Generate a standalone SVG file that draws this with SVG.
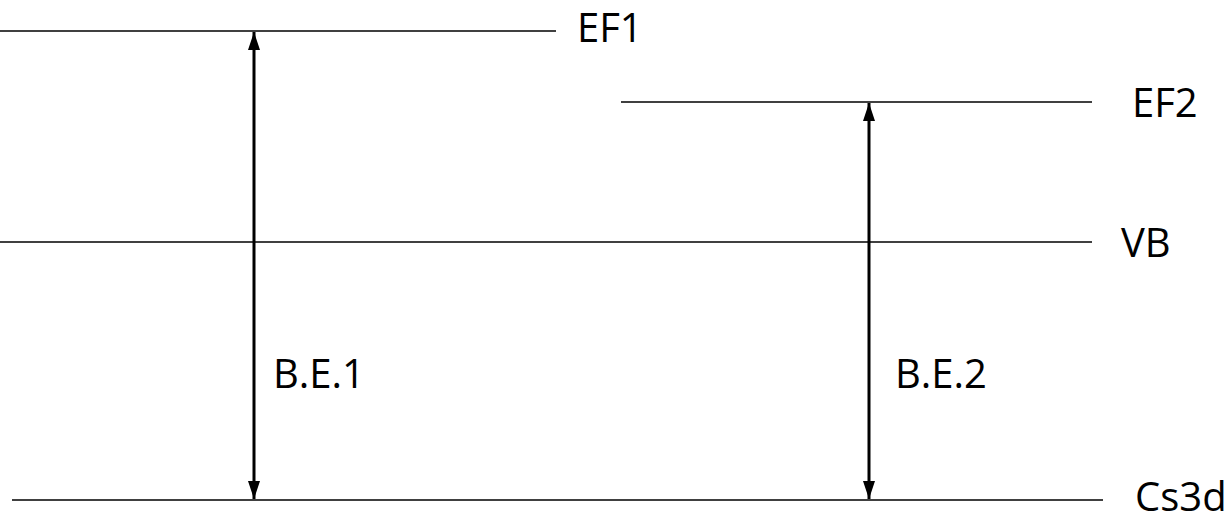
<svg xmlns="http://www.w3.org/2000/svg" width="1232" height="523" viewBox="0 0 1232 523">
<style>
.lvl{stroke:#000;stroke-width:1.3;fill:none}
.arr{stroke:#000;stroke-width:3;fill:none}
.lbl{font-family:"Open Sans","Liberation Sans",sans-serif;font-size:40px;fill:#000}
</style>
<defs>
<marker id="ah" viewBox="0 0 18 12" refX="18" refY="6" markerWidth="18" markerHeight="12" markerUnits="userSpaceOnUse" orient="auto-start-reverse">
<path d="M0,0 L18,6 L0,12 Z" fill="#000"/>
</marker>
</defs>
<rect width="1232" height="523" fill="#fff"/>
<g id="EF1">
<line class="lvl" x1="0" y1="31" x2="556" y2="31"/>
<text class="lbl" x="577" y="42">EF1</text>
</g>
<g id="EF2">
<line class="lvl" x1="621" y1="102" x2="1092" y2="102"/>
<text class="lbl" x="1132" y="117">EF2</text>
</g>
<g id="VB">
<line class="lvl" x1="0" y1="242" x2="1092" y2="242"/>
<text class="lbl" x="1121" y="257">VB</text>
</g>
<g id="Cs3d">
<line class="lvl" x1="12" y1="500" x2="1103" y2="500"/>
<text class="lbl" x="1135" y="511">Cs3d</text>
</g>
<g id="connectors">
<line class="arr" x1="254" y1="32" x2="254" y2="499" marker-start="url(#ah)" marker-end="url(#ah)"/>
<line class="arr" x1="869" y1="103" x2="869" y2="499" marker-start="url(#ah)" marker-end="url(#ah)"/>
<text class="lbl" x="273" y="388">B.E.1</text>
<text class="lbl" x="895" y="388">B.E.2</text>
</g>
</svg>
